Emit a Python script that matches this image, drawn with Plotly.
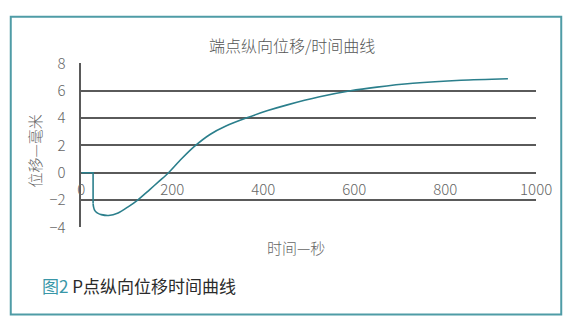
import plotly.graph_objects as go

# data
step_t = [0, 26, 26]
step_d = [0, 0, -2.26]
time_s = [26, 27, 29, 32, 37, 44, 60, 81, 103, 124, 150, 172, 192, 220, 250, 283, 318,
          364, 410, 453, 524, 592, 650, 729, 835, 938]
disp_mm = [-2.26, -2.5, -2.72, -2.86, -2.98, -3.07, -3.13, -2.95, -2.5, -2.0, -1.25, -0.6,
           0.0, 1.0, 1.96, 2.8, 3.42, 4.02, 4.55, 4.97, 5.56, 6.0, 6.27, 6.55, 6.77, 6.88]
x_ticks = [0, 200, 400, 600, 800, 1000]
y_ticks = [-4, -2, 0, 2, 4, 6, 8]
chart_title = "端点纵向位移/时间曲线"
x_title = "时间—秒"
y_title = "位移—毫米"
caption_fig = "图2"
caption_text = "P点纵向位移时间曲线"

W, H = 584, 329
FONT = "Noto Sans CJK SC"
TEAL = "#2b7f8c"
GRID = "#5a5a5a"
LABEL = "#666666"

x0p, x1p = 80, 551
ytop, ybot = 55, 230
ydom = [(H - ybot) / H, (H - ytop) / H]
xdom = [x0p / W, x1p / W]
ymin, ymax = -4, 8
zero_pos = ydom[0] + (ydom[1] - ydom[0]) * (0 - ymin) / (ymax - ymin)

fig = go.Figure()
fig.add_trace(go.Scatter(x=step_t, y=step_d, mode="lines",
                         line=dict(color=TEAL, width=1.6), showlegend=False,
                         hoverinfo="skip"))
fig.add_trace(go.Scatter(x=time_s, y=disp_mm, mode="lines",
                         line=dict(color=TEAL, width=1.6, shape="spline", smoothing=0.8),
                         showlegend=False, hoverinfo="skip"))

fig.update_layout(
    width=W, height=H,
    margin=dict(l=0, r=0, t=0, b=0),
    paper_bgcolor="white", plot_bgcolor="white",
    font=dict(family=FONT, color=LABEL, size=15),
    xaxis=dict(domain=xdom, range=[0, 1000], tickvals=x_ticks,
               ticktext=[str(v) for v in x_ticks],
               anchor="free", position=zero_pos,
               showgrid=False, zeroline=False, showline=False, ticks="",
               ticklabelstandoff=6,
               tickfont=dict(size=15, color=LABEL, weight=300)),
    yaxis=dict(domain=ydom, range=[ymin, ymax], tickvals=y_ticks,
               ticktext=[str(v).replace("-", "−") for v in y_ticks],
               showgrid=True, gridcolor=GRID, gridwidth=1.5,
               zeroline=False, showline=True, linecolor=GRID, linewidth=1.5,
               ticks="", ticklabelstandoff=11,
               tickfont=dict(size=15, color=LABEL, weight=300)),
)

fig.add_annotation(text=chart_title, xref="paper", yref="paper",
                   x=298 / W, y=(H - 35) / H, xanchor="center", yanchor="middle",
                   showarrow=False,
                   font=dict(size=16, color="#555555", family=FONT, weight=300))
fig.add_annotation(text=x_title, xref="paper", yref="paper",
                   x=302 / W, y=(H - 252) / H, xanchor="center", yanchor="middle",
                   showarrow=False,
                   font=dict(size=15, color=LABEL, family=FONT, weight=300))
fig.add_annotation(text=y_title, xref="paper", yref="paper",
                   x=32 / W, y=(H - 148) / H, xanchor="center", yanchor="middle",
                   showarrow=False, textangle=-90,
                   font=dict(size=15, color=LABEL, family=FONT, weight=300))
fig.add_annotation(text=f'<span style="color:#3a97a8">{caption_fig}</span> {caption_text}',
                   xref="paper", yref="paper", xanchor="left", yanchor="middle",
                   x=37 / W, y=(H - 292) / H, showarrow=False,
                   font=dict(size=17, color="#2a2a2a", family=FONT))

fig.add_shape(type="rect", xref="paper", yref="paper",
              x0=7 / W, x1=577 / W, y0=(H - 323) / H, y1=(H - 5) / H,
              line=dict(color="#4f9ca6", width=2), fillcolor="rgba(0,0,0,0)", layer="below")

fig.write_html("out.html")
